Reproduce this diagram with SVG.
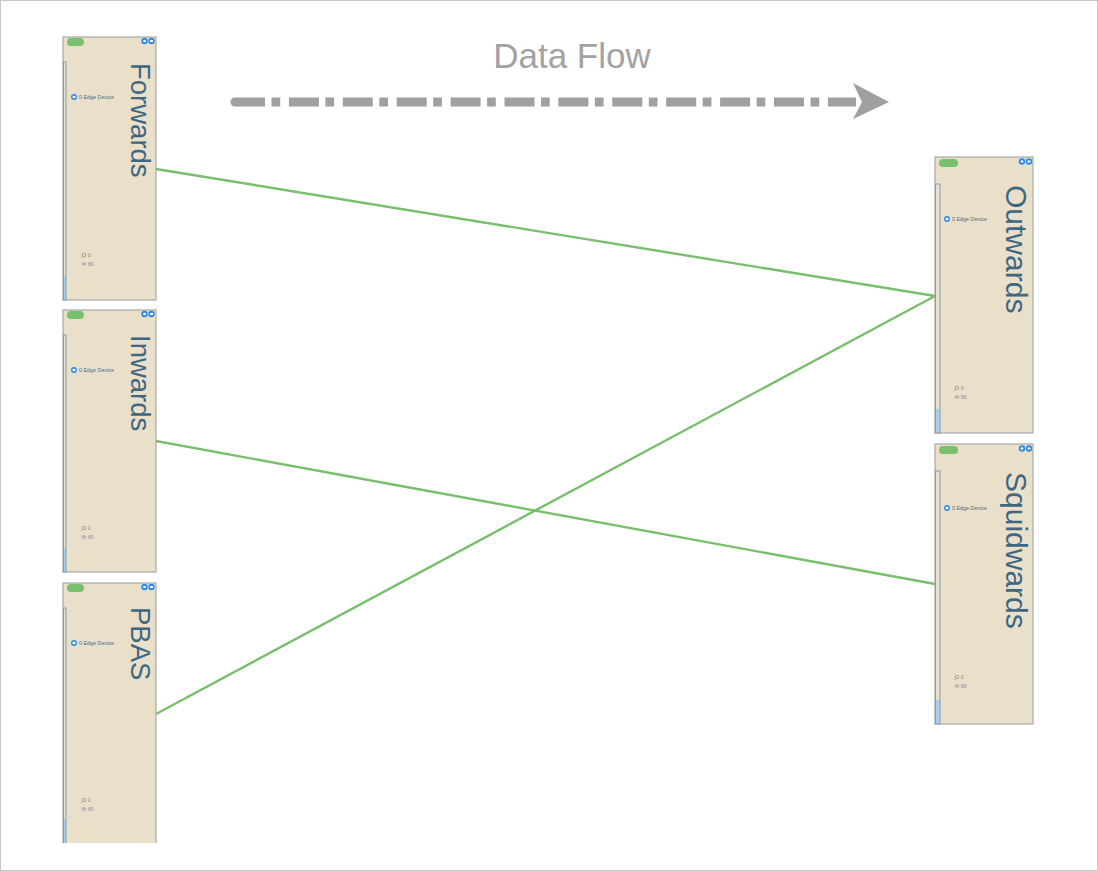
<svg xmlns="http://www.w3.org/2000/svg" width="1098" height="871" viewBox="0 0 1098 871">
<defs>
<style>
.frame{fill:#ffffff;stroke:#c6c6c6;stroke-width:1}
.box{fill:#eadfc9;stroke:#a8a8a8;stroke-width:1.2}
.pill{fill:#78c06c}
.ic{fill:#2a8be6}
.icw{fill:#ffffff}
.bar{fill:none;stroke:#7c9fbd;stroke-width:1}
.barfill{fill:#a9d0e8}
.title{font-family:"Liberation Sans",Arial,sans-serif;font-size:27.5px;fill:#3e6783}
.titleR{font-family:"Liberation Sans",Arial,sans-serif;font-size:30px;fill:#3e6783}
.small{font-family:"Liberation Sans",Arial,sans-serif;font-size:5.4px;fill:#4f6d88}
.stat0{font-family:"Liberation Sans",Arial,sans-serif;font-size:5px;fill:#b07a70}
.stat1{font-family:"Liberation Sans",Arial,sans-serif;font-size:5px;fill:#8a7fb0}
.sico{fill:none;stroke:#8f8f8f;stroke-width:0.8}
.conn{fill:none;stroke:#78bf6b;stroke-width:2.4}
.flow{fill:none;stroke:#a0a0a0;stroke-width:9;stroke-dasharray:30 6.5 8.7 8.7}
.flowlabel{font-family:"Liberation Sans",Arial,sans-serif;font-size:35px;fill:#a2a2a2}
</style>
<clipPath id="cutBottom"><rect x="0" y="0" width="1098" height="843"/></clipPath>
</defs>
<rect class="frame" x="0.5" y="0.5" width="1097" height="870"/>

<g id="dataflow">
<text class="flowlabel" x="572" y="68" text-anchor="middle">Data Flow</text>
<line class="flow" x1="235" y1="102" x2="856" y2="102"/>
<path d="M235,97.5 A4.5,4.5 0 0 0 235,106.5 Z" fill="#a0a0a0"/>
<polygon points="853,83 889,102 853,119 862,102" fill="#a0a0a0"/>
</g>

<g id="connectors">
<line class="conn" x1="156" y1="169" x2="935" y2="296"/>
<line class="conn" x1="156" y1="441" x2="935" y2="584"/>
<line class="conn" x1="156" y1="714" x2="935" y2="296"/>
</g>

<g id="node-forwards">
<rect class="box" x="63" y="37" width="93" height="263"/>
<rect class="pill" x="67" y="38" width="17" height="8" rx="4"/>
<circle class="ic" cx="144.5" cy="41" r="3.2"/><circle class="icw" cx="144.5" cy="41" r="1.3"/>
<circle class="ic" cx="151.5" cy="41" r="3.2"/><rect class="icw" x="150" y="40" width="3" height="2"/>
<rect class="barfill" x="63.5" y="276" width="2.5" height="24"/>
<rect class="bar" x="63.5" y="62" width="2.5" height="238"/>
<text class="title" transform="translate(131,63) rotate(90)">Forwards</text>
<circle class="ic" cx="74" cy="97" r="3"/><rect class="icw" x="72.6" y="95.8" width="2.8" height="2.4"/>
<text class="small" x="79" y="98.8">0 Edge Device</text>
<circle class="sico" cx="84" cy="255" r="1.8"/><line class="sico" x1="82.2" y1="256.8" x2="81" y2="258"/>
<text class="stat0" x="88" y="256.8">0</text>
<ellipse class="sico" cx="84" cy="264" rx="2" ry="1.1"/>
<text class="stat1" x="88" y="265.8">80</text>
</g>

<g id="node-inwards">
<rect class="box" x="63" y="310" width="93" height="262"/>
<rect class="pill" x="67" y="311" width="17" height="8" rx="4"/>
<circle class="ic" cx="144.5" cy="314" r="3.2"/><circle class="icw" cx="144.5" cy="314" r="1.3"/>
<circle class="ic" cx="151.5" cy="314" r="3.2"/><rect class="icw" x="150" y="313" width="3" height="2"/>
<rect class="barfill" x="63.5" y="548" width="2.5" height="24"/>
<rect class="bar" x="63.5" y="335" width="2.5" height="237"/>
<text class="title" transform="translate(131,335) rotate(90)">Inwards</text>
<circle class="ic" cx="74" cy="370" r="3"/><rect class="icw" x="72.6" y="368.8" width="2.8" height="2.4"/>
<text class="small" x="79" y="371.8">0 Edge Device</text>
<circle class="sico" cx="84" cy="528" r="1.8"/><line class="sico" x1="82.2" y1="529.8" x2="81" y2="531"/>
<text class="stat0" x="88" y="529.8">0</text>
<ellipse class="sico" cx="84" cy="537" rx="2" ry="1.1"/>
<text class="stat1" x="88" y="538.8">80</text>
</g>

<g id="node-pbas" clip-path="url(#cutBottom)">
<rect class="box" x="63" y="583" width="93" height="270"/>
<rect class="pill" x="67" y="584" width="17" height="8" rx="4"/>
<circle class="ic" cx="144.5" cy="587" r="3.2"/><circle class="icw" cx="144.5" cy="587" r="1.3"/>
<circle class="ic" cx="151.5" cy="587" r="3.2"/><rect class="icw" x="150" y="586" width="3" height="2"/>
<rect class="barfill" x="63.5" y="819" width="2.5" height="30"/>
<rect class="bar" x="63.5" y="608" width="2.5" height="245"/>
<text class="title" transform="translate(131,607) rotate(90)">PBAS</text>
<circle class="ic" cx="74" cy="643" r="3"/><rect class="icw" x="72.6" y="641.8" width="2.8" height="2.4"/>
<text class="small" x="79" y="644.8">0 Edge Device</text>
<circle class="sico" cx="84" cy="800" r="1.8"/><line class="sico" x1="82.2" y1="801.8" x2="81" y2="803"/>
<text class="stat0" x="88" y="801.8">0</text>
<ellipse class="sico" cx="84" cy="809" rx="2" ry="1.1"/>
<text class="stat1" x="88" y="810.8">80</text>
</g>

<g id="node-outwards">
<rect class="box" x="935" y="157" width="98" height="276"/>
<rect class="pill" x="939" y="159" width="19" height="8" rx="4"/>
<circle class="ic" cx="1022" cy="161.5" r="3.2"/><circle class="icw" cx="1022" cy="161.5" r="1.3"/>
<circle class="ic" cx="1029" cy="161.5" r="3.2"/><rect class="icw" x="1027.5" y="160.5" width="3" height="2"/>
<rect class="barfill" x="935.5" y="409" width="4.5" height="24"/>
<rect class="bar" x="935.5" y="184" width="4.5" height="249"/>
<text class="titleR" transform="translate(1006,185) rotate(90)">Outwards</text>
<circle class="ic" cx="947" cy="219" r="3"/><rect class="icw" x="945.6" y="217.8" width="2.8" height="2.4"/>
<text class="small" x="952" y="220.8">0 Edge Device</text>
<circle class="sico" cx="957" cy="388" r="1.8"/><line class="sico" x1="955.2" y1="389.8" x2="954" y2="391"/>
<text class="stat0" x="961" y="389.8">0</text>
<ellipse class="sico" cx="957" cy="397" rx="2" ry="1.1"/>
<text class="stat1" x="961" y="398.8">80</text>
</g>

<g id="node-squidwards">
<rect class="box" x="935" y="444" width="98" height="280"/>
<rect class="pill" x="939" y="446" width="19" height="8" rx="4"/>
<circle class="ic" cx="1022" cy="448.5" r="3.2"/><circle class="icw" cx="1022" cy="448.5" r="1.3"/>
<circle class="ic" cx="1029" cy="448.5" r="3.2"/><rect class="icw" x="1027.5" y="447.5" width="3" height="2"/>
<rect class="barfill" x="935.5" y="700" width="4.5" height="24"/>
<rect class="bar" x="935.5" y="471" width="4.5" height="253"/>
<text class="titleR" transform="translate(1006,472) rotate(90)">Squidwards</text>
<circle class="ic" cx="947" cy="508" r="3"/><rect class="icw" x="945.6" y="506.8" width="2.8" height="2.4"/>
<text class="small" x="952" y="509.8">0 Edge Device</text>
<circle class="sico" cx="957" cy="677" r="1.8"/><line class="sico" x1="955.2" y1="678.8" x2="954" y2="680"/>
<text class="stat0" x="961" y="678.8">0</text>
<ellipse class="sico" cx="957" cy="686" rx="2" ry="1.1"/>
<text class="stat1" x="961" y="687.8">80</text>
</g>
</svg>
